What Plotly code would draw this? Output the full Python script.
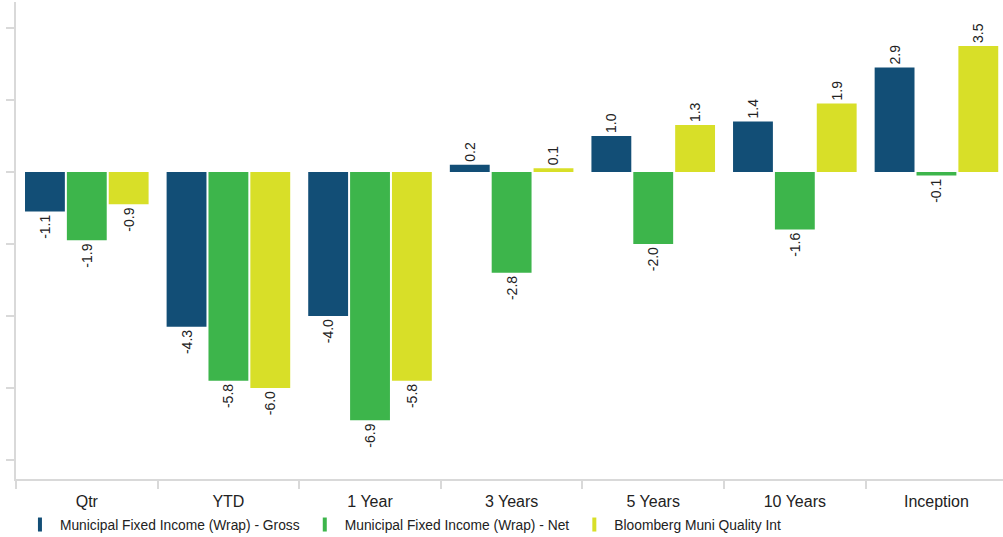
import plotly.graph_objects as go

periods = ["Qtr", "YTD", "1 Year", "3 Years", "5 Years", "10 Years", "Inception"]
gross = [-1.1, -4.3, -4.0, 0.2, 1.0, 1.4, 2.9]
net = [-1.9, -5.8, -6.9, -2.8, -2.0, -1.6, -0.1]
bench = [-0.9, -6.0, -5.8, 0.1, 1.3, 1.9, 3.5]

series = [
    ("Municipal Fixed Income (Wrap) - Gross", gross, "#124e76"),
    ("Municipal Fixed Income (Wrap) - Net", net, "#3db54b"),
    ("Bloomberg Muni Quality Int", bench, "#d8df28"),
]

fig = go.Figure()
for name, vals, color in series:
    fig.add_trace(go.Bar(
        x=periods, y=vals, name=name, marker=dict(color=color, line=dict(width=0)),
        text=[f"{v:.1f}" for v in vals], textposition="outside", textangle=-90,
        constraintext="none",
        textfont=dict(family="Liberation Sans, Arial", size=14, color="#222222"),
        cliponaxis=False, showlegend=False,
    ))
    # legend entry drawn as a narrow vertical bar
    fig.add_trace(go.Scatter(
        x=[None], y=[None], mode="markers", name=name,
        marker=dict(symbol="line-ns", size=10, line=dict(width=4, color=color)),
    ))

axis_gray = "#d9d9d9"
fig.update_layout(
    width=1003, height=537,
    margin=dict(l=16, r=0, t=2, b=58, autoexpand=False),
    paper_bgcolor="white", plot_bgcolor="white",
    barmode="group", bargap=0.113, bargroupgap=0.048,
    font=dict(family="Liberation Sans, Arial", color="#222222"),
    legend=dict(
        orientation="h", x=0.004, xanchor="left", y=-0.063, yanchor="top",
        font=dict(size=13.8, color="#222222"), itemwidth=30,
        bgcolor="rgba(0,0,0,0)",
    ),
    xaxis=dict(
        type="category", range=[-0.5, 6.47], tickson="boundaries",
        showline=True, linecolor=axis_gray, linewidth=2,
        ticks="outside", ticklen=8, tickwidth=2, tickcolor=axis_gray,
        ticklabelstandoff=7,
        tickfont=dict(size=16, color="#222222"), showgrid=False,
    ),
    yaxis=dict(
        range=[-8.53, 4.72], dtick=2, tick0=0,
        showline=True, linecolor=axis_gray, linewidth=2,
        ticks="outside", ticklen=8, tickwidth=2, tickcolor=axis_gray,
        showticklabels=False, showgrid=False, zeroline=False,
    ),
)

fig.write_html("out.html")
